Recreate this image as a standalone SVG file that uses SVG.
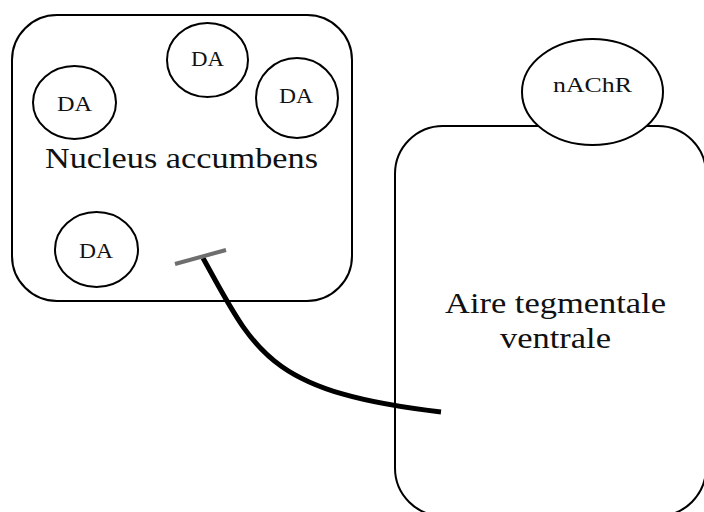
<svg xmlns="http://www.w3.org/2000/svg" width="704" height="512" viewBox="0 0 704 512">
<style>
.box{fill:#fff;stroke:#000;stroke-width:2}
.cell{fill:#fff;stroke:#000;stroke-width:2}
text{font-family:"Liberation Serif","Times New Roman",serif;fill:#111;text-anchor:middle}
.sm{font-size:20px}
.lg{font-size:30px}
</style>
<rect width="704" height="512" fill="#fff"/>
<g id="nucleus-accumbens">
<rect class="box" x="12" y="15" width="340" height="286" rx="45" ry="45"/>
<text class="lg" x="181.5" y="168" textLength="273" lengthAdjust="spacingAndGlyphs">Nucleus accumbens</text>
</g>
<g id="da1"><ellipse class="cell" cx="207.5" cy="60" rx="40.5" ry="37"/><text class="sm" x="207.5" y="66" textLength="33" lengthAdjust="spacingAndGlyphs">DA</text></g>
<g id="da2"><ellipse class="cell" cx="74.5" cy="102.5" rx="41.5" ry="36.5"/><text class="sm" x="74.5" y="111" textLength="35" lengthAdjust="spacingAndGlyphs">DA</text></g>
<g id="da3"><ellipse class="cell" cx="297" cy="98" rx="41" ry="40"/><text class="sm" x="296" y="103" textLength="34" lengthAdjust="spacingAndGlyphs">DA</text></g>
<g id="da4"><ellipse class="cell" cx="96.5" cy="249.5" rx="41.5" ry="37.5"/><text class="sm" x="96" y="258" textLength="34" lengthAdjust="spacingAndGlyphs">DA</text></g>
<g id="aire-tegmentale-ventrale">
<rect class="box" x="395" y="126" width="311" height="390" rx="48" ry="48"/>
<text class="lg" x="555.5" y="313" textLength="221" lengthAdjust="spacingAndGlyphs">Aire tegmentale</text>
<text class="lg" x="555.5" y="348" textLength="111" lengthAdjust="spacingAndGlyphs">ventrale</text>
</g>
<g id="nachr"><ellipse class="cell" cx="592.5" cy="92" rx="70.5" ry="53"/><text class="sm" x="592.5" y="92" textLength="79" lengthAdjust="spacingAndGlyphs">nAChR</text></g>
<g id="connectors">
<path d="M203,258 C255,352 268,392 441,412" fill="none" stroke="#000" stroke-width="5"/>
<line x1="175" y1="264" x2="226" y2="250" stroke="#6e6e6e" stroke-width="4"/>
</g>
</svg>
